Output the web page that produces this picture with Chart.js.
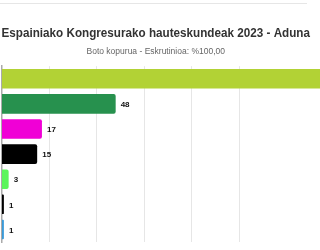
<!DOCTYPE html>
<html>
<head>
<meta charset="utf-8">
<script src="https://cdn.jsdelivr.net/npm/chart.js@4/dist/chart.umd.min.js"></script>
<style>
  html, body { margin: 0; padding: 0; background: #fff; overflow: hidden; }
  #topline { position: absolute; left: 0; top: 3px; width: 307px; height: 0; border-top: 1px solid #e6e6e6; }
  #wrap { position: absolute; left: 0; top: 0; width: 320px; height: 250px; }
</style>
</head>
<body>
<div id="topline"></div>
<div id="wrap"><canvas id="votesChart"></canvas></div>
<script>
// hauteskunde datuak - Aduna
var alderdiak = ["EH Bildu", "EAJ-PNV", "Sumar", "PSE-EE (PSOE)", "Vox", "PACMA", "PP"];
var botoak = [165, 48, 17, 15, 3, 1, 1];
var koloreak = ['#b2d235', '#27914e', '#f000d6', '#000000', '#5cf55c', '#000000', '#3a9ad9'];
var tickPausoa = 20;

// balioak barren ondoan idazteko
var balioEtiketak = {
  id: 'balioEtiketak',
  afterDatasetsDraw: function(chart) {
    var ctx = chart.ctx;
    var meta = chart.getDatasetMeta(0);
    ctx.save();
    ctx.font = 'bold 8px "Liberation Sans", Arial, sans-serif';
    ctx.fillStyle = '#111';
    ctx.textBaseline = 'middle';
    meta.data.forEach(function(bar, i) {
      ctx.fillText(botoak[i], bar.x + 5, bar.y + 1);
    });
    ctx.restore();
  }
};

var votesChart = function()
{
  var config = {
    type: 'bar',
    data: {
      labels: alderdiak,
      datasets: [{
        data: botoak,
        backgroundColor: koloreak,
        borderWidth: 0,
        borderRadius: 2,
        borderSkipped: 'start',
        barPercentage: 0.78,
        categoryPercentage: 1,
        clip: false
      }]
    },
    options: {
      indexAxis: 'y',
      responsive: true,
      maintainAspectRatio: false,
      animation: false,
      layout: { padding: { left: 1.5, right: 10, top: 0, bottom: 8 } },
      plugins: {
        legend: { display: false },
        tooltip: { enabled: false },
        title: {
          display: true,
          text: 'Espainiako Kongresurako hauteskundeak 2023 - Aduna',
          color: '#333',
          font: { family: '"Liberation Sans", Arial, sans-serif', size: 12.5, weight: 'bold' },
          padding: { top: 26, bottom: 6 }
        },
        subtitle: {
          display: true,
          text: 'Boto kopurua - Eskrutinioa: %100,00',
          color: '#666',
          font: { family: '"Liberation Sans", Arial, sans-serif', size: 8.5 },
          padding: { top: 0, bottom: 9 }
        }
      },
      scales: {
        x: {
          min: 0,
          max: 129.7,
          ticks: { display: false, stepSize: tickPausoa },
          afterBuildTicks: function(axis) {
            axis.ticks = axis.ticks.filter(function(t) { return t.value % tickPausoa === 0; });
          },
          grid: { color: '#e6e6e6', drawTicks: false },
          border: { display: false }
        },
        y: {
          ticks: { display: false },
          grid: { display: false, drawTicks: false },
          border: { display: true, color: '#aaa', width: 1.5 }
        }
      }
    },
    plugins: [balioEtiketak]
  };

  new Chart(document.getElementById('votesChart').getContext('2d'), config);
};

votesChart();
</script>
</body>
</html>
